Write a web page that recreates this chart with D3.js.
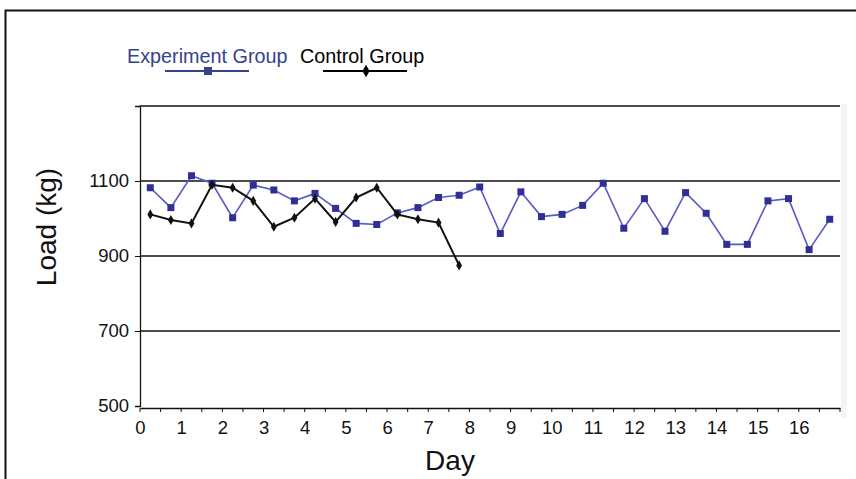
<!DOCTYPE html>
<html>
<head>
<meta charset="utf-8">
<script src="https://cdn.jsdelivr.net/npm/d3@7"></script>
<style>
  html, body { margin: 0; padding: 0; background: #fff; }
  svg { display: block; font-family: "Liberation Sans", Arial, sans-serif; }
</style>
</head>
<body>
<svg id="chart" width="856" height="479"></svg>
<script>
// ---- data ----
const experimentDays = d3.range(34).map(i => 0.25 + 0.5 * i);
const experimentLoad = [1082, 1029, 1114, 1094, 1002, 1089, 1076, 1047, 1067, 1027,
                        987, 984, 1015, 1029, 1056, 1062, 1084, 960, 1071, 1005, 1011,
                        1035, 1094, 974, 1053, 966, 1069, 1014, 931, 931, 1047, 1053, 917, 998];
const controlDays = d3.range(16).map(i => 0.25 + 0.5 * i);
const controlLoad = [1011, 996, 987, 1090, 1082, 1047, 978, 1002, 1053, 991,
                     1056, 1082, 1011, 998, 989, 875];
const xTicks = d3.range(0, 17);
const yTicks = [500, 700, 900, 1100];
const yGrid = [700, 900, 1100, 1300];
const seriesNames = ["Experiment Group", "Control Group"];

// ---- layout ----
const svg = d3.select("#chart");
const pL = 140, pR = 840, pT = 106, pB = 406;
const x = d3.scaleLinear().domain([0, 17]).range([pL, pR]);
const y = d3.scaleLinear().domain([500, 1300]).range([pB, pT]);
const FONT = "Liberation Sans, Arial, sans-serif";

// outer frame
svg.append("path").attr("d", `M5.5,479 L5.5,10.5 L856,10.5`)
  .attr("fill", "none").attr("stroke", "#111").attr("stroke-width", 2);

// soft shadow at right of plot
svg.append("rect").attr("x", pR + 1).attr("y", pT - 2).attr("width", 6).attr("height", pB - pT + 14)
  .attr("fill", "#ececec").attr("opacity", 0.6);

// gridlines
svg.append("g").selectAll("line").data(yGrid).join("line")
  .attr("x1", pL).attr("x2", pR)
  .attr("y1", d => y(d)).attr("y2", d => y(d))
  .attr("stroke", "#111").attr("stroke-width", 1.3);

// y axis
const yAxis = svg.append("g").attr("transform", `translate(${pL},0)`)
  .call(d3.axisLeft(y).tickValues(yTicks).tickSize(5).tickPadding(6).tickFormat(d3.format("d")));
yAxis.select(".domain").attr("stroke", "#111").attr("stroke-width", 1.3);
yAxis.selectAll(".tick line").attr("stroke", "#111");
yAxis.selectAll("text").attr("font-size", 18.5).attr("fill", "#111").attr("font-family", FONT);

// x axis
const xAxis = svg.append("g").attr("transform", `translate(0,${pB + 2})`)
  .call(d3.axisBottom(x).tickValues(xTicks).tickSize(0).tickPadding(13).tickFormat(d3.format("d")));
xAxis.select(".domain").attr("stroke", "#111").attr("stroke-width", 1.3);
xAxis.selectAll("text").attr("font-size", 18.5).attr("fill", "#111").attr("font-family", FONT);
// half-day tick marks
svg.append("g").selectAll("line").data(d3.range(0, 17.01, 0.5)).join("line")
  .attr("x1", d => x(d)).attr("x2", d => x(d))
  .attr("y1", pB + 2).attr("y2", pB + 6)
  .attr("stroke", "#111").attr("stroke-width", 1);

// axis titles
svg.append("text").attr("transform", `translate(56,${(pT + pB) / 2 - 29}) rotate(-90)`)
  .attr("text-anchor", "middle").attr("font-size", 28).attr("fill", "#111").text("Load (kg)");
svg.append("text").attr("x", 450).attr("y", 470)
  .attr("text-anchor", "middle").attr("font-size", 28).attr("fill", "#111").text("Day");

// lines
const expColor = "#5a5ac4", expMarker = "#2f2f96";
const line = d3.line().x(d => x(d[0])).y(d => y(d[1]));
const expData = experimentDays.map((d, i) => [d, experimentLoad[i]]);
const ctlData = controlDays.map((d, i) => [d, controlLoad[i]]);

svg.append("path").datum(expData).attr("d", line)
  .attr("fill", "none").attr("stroke", expColor).attr("stroke-width", 1.6);
svg.append("g").selectAll("rect").data(expData).join("rect")
  .attr("x", d => x(d[0]) - 3.5).attr("y", d => y(d[1]) - 3.5)
  .attr("width", 7).attr("height", 7).attr("fill", expMarker);

svg.append("path").datum(ctlData).attr("d", line)
  .attr("fill", "none").attr("stroke", "#111").attr("stroke-width", 2);
const diamond = d3.symbol().type(d3.symbolDiamond).size(30);
svg.append("g").selectAll("path").data(ctlData).join("path")
  .attr("transform", d => `translate(${x(d[0])},${y(d[1])})`)
  .attr("d", diamond).attr("fill", "#111");

// legend
const lg = svg.append("g");
lg.append("text").attr("x", 127).attr("y", 62.5).attr("font-size", 19.8).attr("fill", "#36428f").text(seriesNames[0]);
lg.append("line").attr("x1", 165).attr("x2", 249).attr("y1", 71).attr("y2", 71)
  .attr("stroke", "#36428f").attr("stroke-width", 2);
lg.append("rect").attr("x", 208 - 4).attr("y", 71 - 4).attr("width", 8).attr("height", 8).attr("fill", "#36428f");
lg.append("text").attr("x", 300).attr("y", 62.5).attr("font-size", 19.8).attr("fill", "#000").text(seriesNames[1]);
lg.append("line").attr("x1", 323).attr("x2", 407).attr("y1", 71).attr("y2", 71)
  .attr("stroke", "#000").attr("stroke-width", 2);
lg.append("path").attr("transform", "translate(366,71)")
  .attr("d", d3.symbol().type(d3.symbolDiamond).size(45)).attr("fill", "#000");
</script>
</body>
</html>
